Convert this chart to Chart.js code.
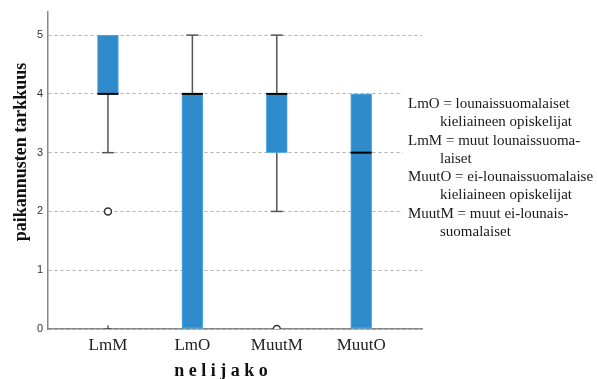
<!DOCTYPE html>
<html>
<head>
<meta charset="utf-8">
<script src="https://cdn.jsdelivr.net/npm/chart.js@4"></script>
<style>
  html, body { margin: 0; padding: 0; background: #fff; }
  #wrap { position: relative; width: 597px; height: 379px; overflow: hidden; }
  #key {
    position: absolute; left: 403px; top: 88px; width: 194px; height: 150px;
    background: #fff; padding: 6px 0 0 5px; box-sizing: border-box;
    font: 15px "Liberation Serif", "Times New Roman", serif; line-height: 18.3px;
    color: #1a1a1a; white-space: nowrap;
  }
  #key .in { padding-left: 32px; }
</style>
</head>
<body>
<div id="wrap">
  <canvas id="c" width="597" height="379"></canvas>
  <div id="key">
    <div>LmO = lounaissuomalaiset</div>
    <div class="in">kieliaineen opiskelijat</div>
    <div>LmM = muut lounaissuoma-</div>
    <div class="in">laiset</div>
    <div>MuutO = ei-lounaissuomalaise</div>
    <div class="in">kieliaineen opiskelijat</div>
    <div>MuutM = muut ei-lounais-</div>
    <div class="in">suomalaiset</div>
  </div>
</div>
<script>
// ─── DATA ───────────────────────────────────────────────────────────
const groups   = ['LmM', 'LmO', 'MuutM', 'MuutO'];
const q1       = [4, 0, 3, 0];
const median   = [4, 4, 4, 3];
const q3       = [5, 4, 4, 4];
const whiskLo  = [3, 0, 2, 0];
const whiskHi  = [5, 5, 5, 4];
// outliers: [group index, value]
const outliers = [[0, 2], [2, 0]];
const extremes = [[0, 0]];
const yTicks   = [0, 1, 2, 3, 4, 5];

const BLUE = '#2f8bcb';
const serif = '"Liberation Serif", "Times New Roman", serif';

// whiskers, caps and medians on top of the bars
const boxExtras = {
  id: 'boxExtras',
  afterDatasetsDraw(chart) {
    const { ctx, scales: { x, y } } = chart;
    ctx.save();
    groups.forEach((g, i) => {
      const cx = x.getPixelForValue(i + 1);
      ctx.strokeStyle = '#555';
      ctx.lineWidth = 1.5;
      // lower whisker: cap at whiskLo, upper whisker: cap at whiskHi
      [[whiskLo[i], q1[i], whiskLo[i]], [q3[i], whiskHi[i], whiskHi[i]]].forEach(([a, b, end]) => {
        if (a === b) return;
        ctx.beginPath();
        ctx.moveTo(cx, y.getPixelForValue(a));
        ctx.lineTo(cx, y.getPixelForValue(b));
        ctx.stroke();
        const py = y.getPixelForValue(end);
        ctx.beginPath();
        ctx.moveTo(cx - 6, py);
        ctx.lineTo(cx + 6, py);
        ctx.stroke();
      });
      // median
      ctx.strokeStyle = '#000';
      ctx.lineWidth = 2;
      const my = y.getPixelForValue(median[i]);
      ctx.beginPath();
      ctx.moveTo(cx - 10.5, my);
      ctx.lineTo(cx + 10.5, my);
      ctx.stroke();
    });
    ctx.restore();
  }
};

// axis titles placed like the original figure
const axisTitles = {
  id: 'axisTitles',
  afterDraw(chart) {
    const { ctx } = chart;
    ctx.save();
    ctx.fillStyle = '#111';
    ctx.textAlign = 'center';
    ctx.textBaseline = 'middle';
    ctx.font = 'bold 18px ' + serif;
    ctx.translate(21, 152);
    ctx.rotate(-Math.PI / 2);
    ctx.fillText('paikannusten tarkkuus', 0, 0);
    ctx.restore();
    ctx.save();
    ctx.fillStyle = '#111';
    ctx.textAlign = 'center';
    ctx.textBaseline = 'middle';
    ctx.font = 'bold 18px ' + serif;
    ctx.fillText('n e l i j a k o', 221, 371);
    ctx.restore();
  }
};

new Chart(document.getElementById('c'), {
  type: 'bar',
  data: {
    datasets: [
      {
        type: 'bar',
        data: groups.map((g, i) => ({ x: i + 1, y: [q1[i], q3[i]] })),
        backgroundColor: BLUE,
        borderColor: '#58aee6',
        borderWidth: 1,
        borderSkipped: false,
        barThickness: 21,
        order: 2
      },
      {
        type: 'scatter',
        data: outliers.map(([i, v]) => ({ x: i + 1, y: v })),
        pointStyle: 'circle',
        pointRadius: 3.5,
        backgroundColor: '#fff',
        borderColor: '#333',
        borderWidth: 1.5,
        order: 1
      },
      {
        type: 'scatter',
        data: extremes.map(([i, v]) => ({ x: i + 1, y: v })),
        pointStyle: 'cross',
        pointRadius: 3.5,
        borderColor: '#333',
        borderWidth: 1.2,
        order: 1
      }
    ]
  },
  options: {
    responsive: false,
    animation: false,
    layout: { padding: { top: 8, right: 175, left: 0, bottom: 0 } },
    plugins: { legend: { display: false }, tooltip: { enabled: false } },
    scales: {
      x: {
        type: 'linear',
        offset: false,
        min: 0.29,
        max: 4.72,
        afterBuildTicks: s => { s.ticks = groups.map((g, i) => ({ value: i + 1 })); },
        afterFit: s => { s.height = 50; },
        ticks: {
          callback: v => groups[v - 1],
          font: { family: serif, size: 17 },
          color: '#222',
          padding: 6,
          autoSkip: false,
          maxRotation: 0
        },
        grid: { display: false, drawTicks: false },
        border: { display: true, color: '#888', width: 1.5 }
      },
      y: {
        min: 0,
        max: 5.4,
        afterBuildTicks: s => { s.ticks = yTicks.map(v => ({ value: v })); },
        afterFit: s => { s.width = 48; },
        ticks: {
          font: { family: '"Liberation Sans", Arial, sans-serif', size: 11 },
          color: '#333',
          padding: 5
        },
        grid: { color: '#b0b0b0', lineWidth: 1, drawTicks: false },
        border: { display: true, color: '#888', width: 1.5, dash: [3, 3] }
      }
    }
  },
  plugins: [boxExtras, axisTitles]
});
</script>
</body>
</html>
